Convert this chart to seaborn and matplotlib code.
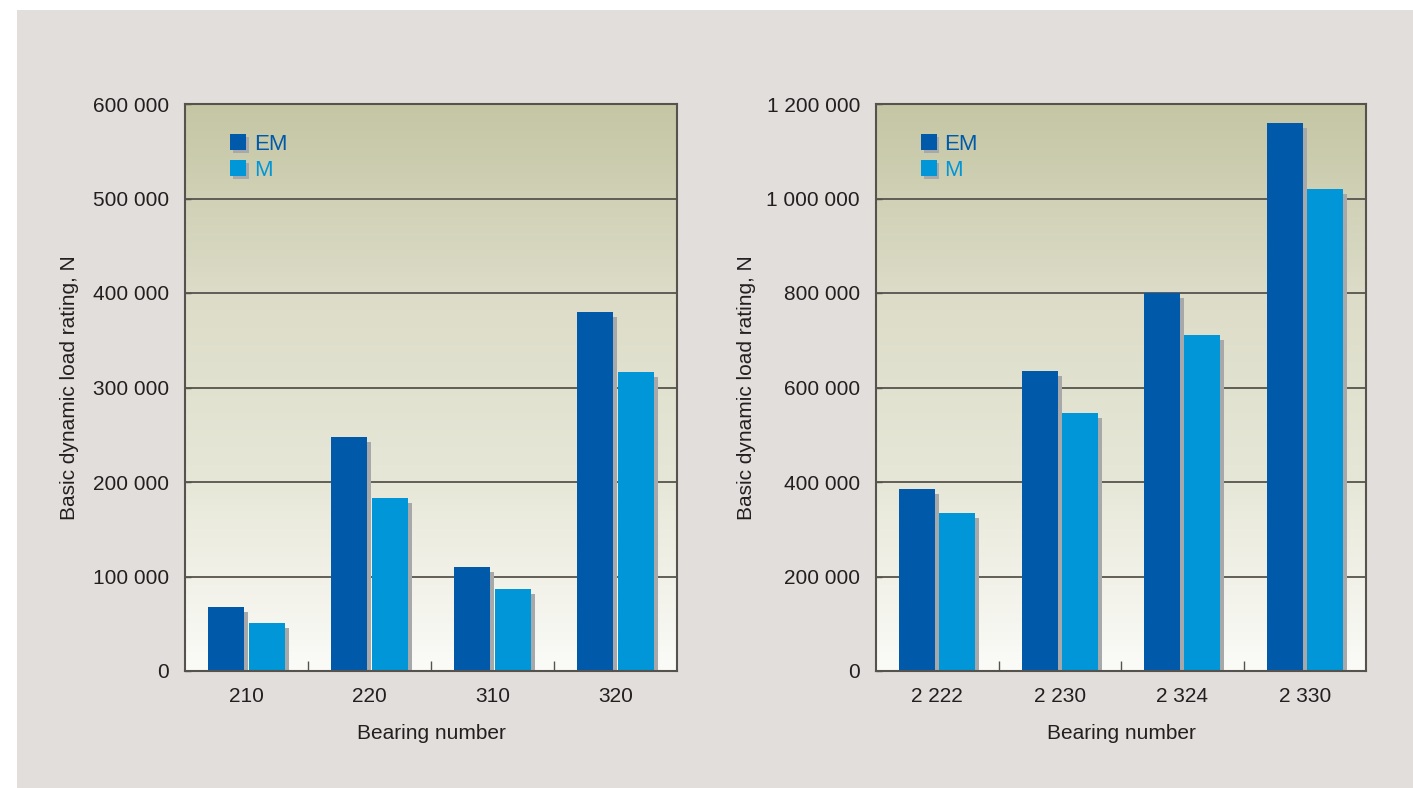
import numpy as np
import pandas as pd
import matplotlib
matplotlib.use("Agg")
import matplotlib.pyplot as plt
import matplotlib.transforms as mtransforms
from matplotlib.colors import LinearSegmentedColormap
from matplotlib.patches import Rectangle
from matplotlib.ticker import FuncFormatter, FixedLocator, MultipleLocator
import seaborn as sns

# values
left_bearings = ["210", "220", "310", "320"]
left_em = [68000, 248000, 110000, 380000]
left_m = [51000, 183000, 87000, 316000]

right_bearings = ["2 222", "2 230", "2 324", "2 330"]
right_em = [385000, 634000, 800000, 1160000]
right_m = [334000, 546000, 711000, 1020000]

series = ["EM", "M"]
colors = {"EM": "#005aa9", "M": "#0096d7"}
shadow_color = "#a7a8aa"
line_color = "#56534e"
text_color = "#231f20"

sns.set_theme(style="ticks")
plt.rcParams["font.family"] = ["Liberation Sans", "DejaVu Sans"]
plt.rcParams["font.size"] = 15

bg_cmap = LinearSegmentedColormap.from_list(
    "bg", ["#fbfbf8", "#e7e7d8", "#dcdcc8", "#c4c6a4"])


def make_frame(bearings, em, m):
    return pd.DataFrame({
        "bearing": bearings + bearings,
        "type": ["EM"] * len(em) + ["M"] * len(m),
        "rating": em + m,
    })


def fmt(v, pos):
    return f"{int(round(v)):,}".replace(",", " ")


def draw_panel(fig, ax, df, bearings, ymax, ystep, ylabel_x):
    sns.barplot(data=df, x="bearing", y="rating", hue="type", order=bearings,
                hue_order=series, palette=colors, width=0.656, gap=0.1,
                saturation=1, errorbar=None, legend=False, ax=ax, zorder=3,
                linewidth=0, edgecolor="none")
    # drop shadows behind the bars
    offset = mtransforms.ScaledTranslation(4 / 100, -5 / 100, fig.dpi_scale_trans)
    for p in list(ax.patches):
        p.set_linewidth(0)
        sh = Rectangle((p.get_x(), p.get_y()), p.get_width(), p.get_height(),
                       facecolor=shadow_color, edgecolor="none", linewidth=0,
                       transform=ax.transData + offset, zorder=2)
        ax.add_patch(sh)

    grad = np.linspace(0, 1, 256).reshape(-1, 1)
    ax.imshow(grad, cmap=bg_cmap, aspect="auto", extent=[0, 1, 0, 1],
              transform=ax.transAxes, origin="lower", zorder=0)

    ax.set_xlim(-0.5, len(bearings) - 0.5)
    ax.set_ylim(0, ymax)
    ax.yaxis.set_major_locator(MultipleLocator(ystep))
    ax.yaxis.set_major_formatter(FuncFormatter(fmt))
    ax.set_axisbelow(True)
    ax.yaxis.grid(True, color=line_color, lw=1.3, zorder=1)
    ax.xaxis.grid(False)

    ax.xaxis.set_minor_locator(FixedLocator([i + 0.5 for i in range(len(bearings) - 1)]))
    ax.tick_params(axis="x", which="major", length=0, pad=11.5, labelsize=15, labelcolor=text_color)
    ax.tick_params(axis="x", which="minor", direction="in", length=7, width=1, color=line_color)
    ax.tick_params(axis="y", which="major", direction="in", length=4, width=1,
                   color=line_color, pad=11.5, labelsize=15, labelcolor=text_color)
    for s in ax.spines.values():
        s.set_visible(True)
        s.set_color(line_color)
        s.set_linewidth(1.5)
        s.set_zorder(6)

    ax.set_xlabel("Bearing number", fontsize=15, color=text_color)
    ax.set_ylabel("Basic dynamic load rating, N", fontsize=15, color=text_color)
    ax.xaxis.set_label_coords(0.5, -0.094)
    ax.yaxis.set_label_coords(ylabel_x, 0.5)

    # legend with shadowed squares
    for i, s in enumerate(series):
        y0 = 0.919 - i * 0.046
        ax.add_patch(Rectangle((0.097, y0 - 0.0053), 0.0325, 0.0282, transform=ax.transAxes,
                               facecolor=shadow_color, edgecolor="none", zorder=7))
        ax.add_patch(Rectangle((0.091, y0), 0.0325, 0.0282, transform=ax.transAxes,
                               facecolor=colors[s], edgecolor="none", zorder=8))
        ax.text(0.140, y0, s, transform=ax.transAxes, color=colors[s],
                fontsize=16, ha="left", va="baseline", zorder=8)


fig = plt.figure(figsize=(14.13, 7.88), dpi=100)
fig.patch.set_facecolor("white")
fig.add_artist(Rectangle((17 / 1413, 0), 1, 778 / 788, transform=fig.transFigure,
                         facecolor="#e2dedb", edgecolor="none", zorder=-10))

ax1 = fig.add_axes([185 / 1413, 117 / 788, 492 / 1413, 567 / 788])
ax2 = fig.add_axes([876 / 1413, 117 / 788, 490 / 1413, 567 / 788])

draw_panel(fig, ax1, make_frame(left_bearings, left_em, left_m),
           left_bearings, 600000, 100000, -0.215)
draw_panel(fig, ax2, make_frame(right_bearings, right_em, right_m),
           right_bearings, 1200000, 200000, -0.245)

fig.savefig("out.png", dpi=100, facecolor=fig.get_facecolor())
